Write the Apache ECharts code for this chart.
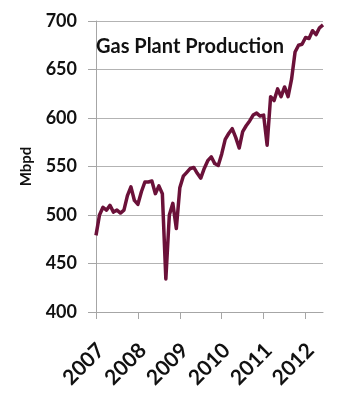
<!DOCTYPE html>
<html><head><meta charset="utf-8">
<script src="https://cdn.jsdelivr.net/npm/echarts@6/dist/echarts.min.js"></script>
<style>html,body{margin:0;padding:0;background:#fff}#c{width:360px;height:406px}</style>
</head><body><div id="c"></div>
<script>
const title = 'Gas Plant Production';
const yAxisName = 'Mbpd';
const yearLabels = ['2007', '2008', '2009', '2010', '2011', '2012'];
const monthNames = ['01','02','03','04','05','06','07','08','09','10','11','12'];
const months = [];
yearLabels.forEach(y => monthNames.forEach(m => months.push(y + '-' + m)));
const categories = months.slice(0, 66); // Jan 2007 .. Jun 2012
const production = [
  479, 500, 508, 505, 510, 503, 505, 502, 505, 520, 529, 515,
  511, 524, 534, 534, 535, 522, 530, 522, 434, 500, 512, 486,
  528, 540, 544, 548, 549, 543, 538, 548, 556, 560, 553, 551,
  563, 578, 584, 589, 580, 569, 586, 592, 597, 603, 605, 602,
  603, 572, 622, 618, 630, 622, 632, 622, 640, 668, 675, 676,
  683, 682, 690, 686, 693, 696
];
const yMin = 400, yMax = 700, yStep = 50;

const chart = echarts.init(document.getElementById('c'), null, {renderer: 'canvas'});
const font = 'Lato, "Noto Sans", sans-serif';
chart.setOption({
  animation: false,
  backgroundColor: '#ffffff',
  grid: {left: 96, right: 37, top: 21, bottom: 94, containLabel: false},
  title: {
    text: title, left: 91, top: 32,
    textStyle: {fontFamily: font, fontWeight: 'bold', fontSize: 20, color: '#111111'}
  },
  xAxis: {
    type: 'category', data: categories, boundaryGap: false,
    axisLine: {lineStyle: {color: '#a6a6a6', width: 1}},
    axisTick: {show: true, length: 7, interval: (i) => i % 12 === 0, lineStyle: {color: '#a6a6a6'}},
    axisLabel: {
      interval: (i) => i % 12 === 0, rotate: 45, margin: 30,
      verticalAlign: 'top', lineHeight: 14,
      formatter: (v) => v.slice(0, 4),
      fontFamily: font, fontWeight: 'bold', fontSize: 21, color: '#111111'
    },
    splitLine: {show: false}
  },
  yAxis: {
    type: 'value', min: yMin, max: yMax, interval: yStep,
    name: yAxisName, nameLocation: 'middle', nameGap: 62, nameRotate: 90,
    nameTextStyle: {fontFamily: font, fontWeight: 'bold', fontSize: 15, color: '#111111'},
    axisLine: {show: true, lineStyle: {color: '#a6a6a6', width: 1}},
    axisTick: {show: true, length: 8, lineStyle: {color: '#a6a6a6'}},
    axisLabel: {margin: 19, fontFamily: font, fontWeight: 'bold', fontSize: 18, color: '#111111'},
    splitLine: {show: true, lineStyle: {color: '#b3b3b3', width: 1}}
  },
  series: [{
    type: 'line', data: production, symbol: 'none',
    lineStyle: {color: '#6b1139', width: 3.5, join: 'round'},
    z: 3
  }]
});
</script></body></html>
